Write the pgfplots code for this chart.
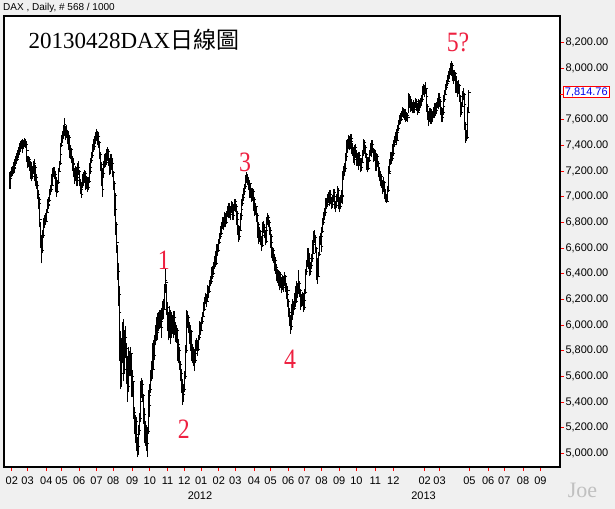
\documentclass[border=0pt]{standalone}
\usepackage{pgfplots}
\pgfplotsset{compat=1.18}
\usepackage{pgfplotstable}
\usepackage{graphicx}
\usepackage{fontspec}
\setmainfont{Liberation Sans}
\newfontfamily\serif{Liberation Serif}
\newfontfamily\cjk{Noto Sans CJK TC}
\definecolor{bggray}{RGB}{240,240,240}
\definecolor{wavered}{RGB}{238,32,64}
\definecolor{joegray}{RGB}{192,192,192}
\definecolor{priceblue}{RGB}{0,0,235}

% DAX daily bars, Feb 2011 - Apr 2013: high, low, close
\pgfplotstableread{
h l c
7190 7060 7140
7200 7100 7180
7230 7150 7200
7240 7160 7190
7260 7180 7230
7270 7190 7220
7290 7200 7260
7320 7240 7300
7340 7260 7290
7360 7280 7340
7370 7300 7330
7390 7310 7360
7420 7340 7400
7430 7350 7380
7440 7370 7410
7420 7340 7390
7450 7380 7420
7440 7370 7400
7455 7390 7430
7450 7380 7410
7430 7340 7360
7380 7270 7300
7320 7220 7250
7320 7230 7290
7310 7200 7260
7280 7150 7200
7270 7140 7230
7240 7120 7160
7240 7140 7210
7280 7180 7260
7290 7200 7230
7250 7120 7160
7200 7080 7150
7180 7060 7090
7120 6980 7020
7050 6900 6950
7000 6860 6980
6960 6760 6820
6800 6600 6700
6700 6480 6580
6740 6560 6700
6800 6680 6760
6830 6720 6790
6860 6760 6830
6870 6780 6810
6900 6800 6880
6960 6870 6940
6980 6900 6930
7000 6920 6970
7060 6960 7040
7090 7010 7060
7120 7040 7090
7180 7080 7160
7220 7140 7180
7230 7150 7200
7230 7140 7170
7190 7090 7120
7150 7040 7080
7100 7000 7040
7130 7030 7110
7220 7100 7200
7280 7190 7260
7350 7250 7330
7420 7320 7400
7480 7390 7450
7510 7420 7480
7560 7460 7500
7610 7480 7560
7590 7470 7520
7550 7440 7490
7560 7460 7510
7520 7410 7440
7500 7400 7460
7480 7360 7400
7420 7300 7330
7400 7290 7370
7380 7260 7300
7320 7210 7250
7300 7200 7260
7280 7150 7190
7220 7100 7140
7240 7120 7210
7230 7090 7130
7180 7080 7150
7260 7140 7230
7280 7170 7200
7210 7080 7110
7140 7020 7060
7090 6990 7020
7110 7000 7090
7180 7070 7150
7190 7090 7120
7210 7110 7180
7200 7100 7140
7170 7050 7090
7160 7060 7130
7150 7040 7070
7150 7050 7120
7220 7110 7200
7260 7180 7230
7300 7210 7280
7350 7260 7320
7410 7300 7380
7440 7350 7420
7450 7360 7390
7470 7380 7440
7500 7410 7470
7530 7440 7490
7510 7400 7430
7500 7420 7470
7490 7380 7420
7430 7290 7330
7350 7200 7250
7270 7080 7150
7180 7000 7060
7220 7050 7180
7280 7150 7240
7330 7220 7300
7340 7230 7270
7360 7250 7330
7370 7260 7300
7390 7280 7350
7370 7240 7280
7300 7170 7220
7290 7180 7250
7330 7210 7300
7330 7220 7260
7290 7150 7190
7200 7050 7100
7120 6975 7010
7030 6850 6900
6950 6700 6780
6800 6560 6640
6620 6350 6420
6480 6150 6240
6300 5950 6100
6150 5720 5880
5950 5500 5620
5900 5520 5850
6020 5700 5940
6050 5750 5800
5880 5560 5650
5960 5620 5900
5990 5740 5820
5860 5540 5600
5700 5400 5520
5760 5480 5700
5830 5640 5760
5800 5600 5650
5830 5600 5780
5780 5560 5600
5650 5440 5480
5640 5470 5560
5560 5270 5320
5360 5150 5200
5300 5080 5250
5280 5100 5150
5200 5020 5080
5130 4970 5050
5220 4990 5180
5310 5140 5270
5430 5240 5400
5560 5380 5500
5590 5430 5540
5570 5400 5450
5460 5230 5300
5350 5170 5250
5290 5080 5130
5250 5060 5200
5220 5020 5080
5200 4970 5170
5490 5150 5450
5470 5280 5370
5540 5330 5500
5650 5470 5580
5720 5560 5680
5740 5580 5650
5860 5660 5820
5880 5700 5760
5920 5730 5880
6000 5840 5950
6060 5920 6020
6050 5880 5940
6090 5920 6050
6100 5950 6000
6120 5970 6080
6120 5980 6030
6080 5900 5980
6130 5960 6090
6190 6040 6150
6200 6050 6120
6320 6120 6280
6445 6250 6350
6400 6260 6330
6320 6080 6140
6180 5950 6050
6100 5880 5980
6150 5920 6100
6120 5900 6000
6060 5850 5940
6090 5900 6050
6080 5930 6000
6060 5900 5970
6110 5950 6060
6080 5920 5990
6020 5870 5930
6000 5860 5960
5980 5800 5850
5890 5720 5780
5850 5700 5800
5830 5650 5690
5720 5560 5620
5660 5470 5530
5580 5400 5480
5520 5380 5460
5540 5400 5500
5640 5480 5600
5840 5580 5800
6100 5780 6050
6120 5960 6010
6110 5980 6060
6080 5940 6000
6020 5850 5900
5990 5870 5950
5960 5800 5850
5880 5720 5780
5850 5700 5800
5830 5680 5740
5780 5640 5720
5810 5700 5780
5880 5760 5850
5900 5800 5860
5880 5760 5810
5920 5800 5900
5990 5880 5950
6030 5920 6000
6020 5920 5960
6060 5950 6030
6100 6010 6070
6170 6060 6140
6180 6090 6120
6220 6110 6190
6250 6160 6220
6240 6140 6180
6280 6180 6250
6310 6220 6280
6300 6210 6260
6350 6250 6320
6380 6300 6340
6400 6320 6380
6450 6360 6420
6460 6370 6400
6490 6390 6460
6540 6440 6510
6540 6450 6480
6580 6470 6550
6630 6540 6600
6630 6540 6580
6670 6570 6640
6720 6630 6690
6770 6670 6740
6770 6680 6710
6800 6700 6770
6840 6750 6820
6840 6740 6780
6860 6760 6830
6880 6790 6850
6870 6760 6800
6890 6790 6860
6930 6840 6900
6930 6830 6880
6950 6850 6920
6940 6830 6860
6920 6820 6890
6970 6870 6940
6960 6860 6900
6930 6820 6850
6940 6840 6910
6980 6890 6960
6980 6880 6920
6940 6830 6870
6890 6780 6820
6840 6700 6750
6780 6650 6690
6770 6660 6740
6870 6740 6850
6930 6820 6900
6980 6880 6950
7020 6930 6990
7070 6970 7040
7100 7010 7080
7140 7060 7110
7170 7080 7140
7194 7110 7150
7180 7090 7130
7150 7050 7080
7130 7040 7100
7110 6990 7020
7090 6990 7060
7070 6960 7000
7070 6970 7040
7060 6940 6980
7000 6890 6940
6960 6850 6880
6950 6860 6920
6930 6800 6850
6870 6740 6780
6800 6680 6720
6750 6630 6680
6760 6650 6730
6740 6620 6660
6690 6580 6620
6720 6610 6700
6800 6690 6780
6810 6720 6760
6790 6680 6710
6740 6620 6650
6770 6640 6740
6840 6730 6810
6870 6780 6840
6860 6760 6800
6820 6700 6740
6760 6650 6690
6710 6600 6640
6660 6520 6560
6610 6500 6580
6600 6480 6520
6550 6430 6470
6530 6420 6500
6520 6400 6450
6470 6340 6380
6440 6330 6410
6430 6300 6350
6380 6270 6320
6420 6300 6390
6410 6290 6340
6370 6250 6300
6390 6270 6350
6370 6260 6290
6380 6280 6340
6410 6300 6380
6390 6260 6300
6330 6200 6240
6300 6190 6270
6290 6140 6180
6200 6060 6100
6130 5990 6050
6080 5930 5990
6110 5960 6080
6160 6040 6120
6200 6090 6160
6190 6080 6130
6250 6120 6220
6260 6140 6180
6300 6170 6260
6340 6230 6300
6330 6210 6250
6430 6240 6320
6340 6220 6270
6280 6120 6160
6230 6130 6200
6240 6140 6180
6260 6150 6230
6250 6100 6140
6220 6120 6190
6280 6170 6250
6440 6240 6420
6510 6390 6470
6600 6450 6560
6600 6480 6520
6550 6440 6480
6500 6380 6420
6490 6390 6460
6550 6440 6520
6590 6490 6560
6660 6550 6630
6730 6620 6700
6740 6640 6680
6700 6560 6600
6610 6440 6500
6520 6350 6400
6440 6320 6380
6570 6370 6550
6690 6540 6650
6720 6620 6690
6700 6570 6610
6760 6600 6730
6830 6720 6800
6880 6780 6850
6910 6820 6880
6960 6860 6930
6990 6900 6960
6990 6900 6940
7020 6920 6990
7040 6950 7010
7030 6930 6970
7050 6950 7020
7040 6940 6980
7000 6900 6940
7010 6910 6980
7060 6960 7030
7060 6960 7000
7020 6900 6940
6970 6880 6930
7020 6910 7000
7080 6980 7050
7070 6960 6990
7010 6900 6960
6990 6880 6920
7010 6900 6990
7050 6950 7010
7040 6940 7000
7200 7020 7170
7240 7130 7200
7260 7160 7220
7340 7200 7310
7400 7280 7350
7440 7340 7410
7450 7340 7380
7480 7370 7440
7470 7360 7400
7460 7370 7430
7490 7400 7450
7450 7330 7360
7420 7320 7380
7390 7260 7290
7360 7250 7330
7400 7300 7380
7410 7310 7340
7360 7240 7280
7330 7240 7300
7320 7210 7250
7350 7240 7320
7340 7250 7290
7300 7190 7230
7300 7200 7270
7360 7260 7340
7410 7320 7380
7450 7360 7420
7440 7340 7380
7400 7300 7330
7340 7210 7250
7310 7200 7280
7290 7190 7220
7310 7210 7280
7360 7270 7330
7420 7320 7390
7410 7310 7350
7440 7340 7410
7430 7340 7370
7380 7270 7300
7370 7280 7340
7360 7260 7290
7300 7200 7240
7340 7220 7310
7330 7230 7260
7280 7150 7200
7230 7120 7170
7200 7080 7120
7190 7090 7160
7180 7070 7100
7130 7020 7060
7150 7040 7110
7120 7000 7050
7080 6980 7020
7060 6960 6990
7020 6950 6960
7080 6960 7050
7210 7040 7180
7240 7140 7200
7290 7180 7260
7350 7250 7320
7350 7260 7300
7370 7280 7340
7410 7320 7390
7440 7360 7410
7470 7390 7440
7500 7420 7470
7490 7400 7440
7530 7440 7500
7560 7470 7530
7600 7510 7580
7640 7560 7610
7650 7570 7600
7670 7590 7640
7670 7590 7630
7700 7620 7660
7690 7610 7650
7680 7600 7630
7680 7600 7650
7670 7580 7610
7660 7590 7630
7650 7580 7620
7810 7650 7780
7800 7710 7760
7780 7690 7730
7760 7660 7700
7750 7670 7720
7740 7650 7690
7750 7670 7720
7740 7650 7680
7740 7660 7710
7770 7690 7740
7760 7670 7700
7720 7640 7660
7730 7650 7700
7760 7680 7730
7750 7670 7710
7770 7690 7740
7790 7710 7760
7820 7740 7800
7860 7780 7830
7880 7800 7850
7870 7780 7820
7890 7800 7840
7850 7740 7780
7790 7660 7700
7720 7600 7640
7670 7550 7600
7690 7580 7660
7690 7600 7630
7660 7570 7600
7680 7590 7650
7670 7580 7620
7700 7610 7680
7700 7620 7650
7730 7640 7700
7720 7630 7670
7740 7650 7700
7770 7690 7740
7780 7680 7720
7810 7700 7770
7790 7700 7740
7760 7640 7680
7700 7580 7620
7690 7580 7660
7730 7640 7700
7790 7690 7760
7830 7740 7800
7880 7790 7850
7910 7830 7880
7950 7860 7920
7950 7870 7900
7980 7890 7950
8000 7920 7960
8040 7950 8000
8058 7970 8020
8040 7940 7980
8000 7900 7940
7980 7880 7920
7990 7900 7960
7970 7850 7890
7920 7810 7860
7940 7840 7900
7900 7780 7820
7910 7800 7870
7880 7740 7780
7790 7660 7700
7720 7620 7660
7740 7640 7700
7820 7700 7780
7850 7750 7800
7810 7680 7720
7720 7520 7560
7580 7420 7460
7520 7430 7460
7700 7450 7660
7830 7650 7814.76
}\daxdata

\begin{document}
\begin{tikzpicture}
\fill[bggray] (0,0) rectangle (615bp,509bp);
\useasboundingbox (0,0) rectangle (615bp,509bp);
\begin{axis}[
  at={(4bp,42bp)}, anchor=south west,
  scale only axis, width=556bp, height=451bp,
  xmin=-7.4, xmax=680.7, ymin=4893, ymax=8408,
  axis background/.style={fill=white},
  axis line style={black, line width=1.2bp},
  clip mode=individual,
  tick align=outside, major tick length=4bp,
  tick style={red, line width=0.8bp},
  xtick pos=bottom, ytick pos=right, yticklabel pos=right,
  xtick={2.2,21.7,44.9,63.9,85.6,107.1,127.8,151.2,173.0,194.9,215.7,236.6,258.4,278.8,302.1,322.5,344.3,364.2,385.6,407.4,428.8,452.1,474.4,513.2,531.7,568.6,591.8,611.8,635.0,656.4},
  xticklabels={02,03,04,05,06,07,08,09,10,11,12,01,02,03,04,05,06,07,08,09,10,11,12,02,03,05,06,07,08,09},
  ytick={5000,5200,...,7600,8000,8200},
  extra y ticks={7800}, extra y tick labels={},
  ticklabel style={font=\fontsize{11bp}{13bp}\selectfont},
  xticklabel style={yshift=-2bp},
  yticklabel style={xshift=-2bp, anchor=west,
    /pgf/number format/.cd, fixed, fixed zerofill, precision=2, 1000 sep={,}, assume math mode=true},
]
% high-low range of each session
\addplot[draw=none, mark=none,
  error bars/.cd, y dir=plus, y explicit, error mark=none,
  error bar style={draw=black, line width=1.1bp}]
  table[x expr=\coordindex, y=l, y error expr=\thisrow{h}-\thisrow{l}] {\daxdata};
% closing tick
\addplot[only marks, mark=-, mark size=1.4bp, black, mark options={line width=0.9bp}]
  table[x expr=\coordindex+1.2, y=c] {\daxdata};
% wave count
\node[text=wavered, font=\serif\fontsize{28bp}{30bp}\selectfont] at (axis cs:190.5,6507) {\scalebox{0.85}[1]{1}};
\node[text=wavered, font=\serif\fontsize{28bp}{30bp}\selectfont] at (axis cs:215.3,5186) {\scalebox{0.85}[1]{2}};
\node[text=wavered, font=\serif\fontsize{28bp}{30bp}\selectfont] at (axis cs:290.8,7265) {\scalebox{0.85}[1]{3}};
\node[text=wavered, font=\serif\fontsize{28bp}{30bp}\selectfont] at (axis cs:346.5,5732) {\scalebox{0.85}[1]{4}};
\node[text=wavered, font=\serif\fontsize{28bp}{30bp}\selectfont] at (axis cs:554.5,8203) {\scalebox{0.85}[1]{5?}};
% last price
\node[anchor=west, draw=red, fill=white, text=priceblue, line width=0.8bp,
  inner xsep=2bp, inner ysep=1bp, xshift=2.5bp,
  font=\fontsize{11bp}{12bp}\selectfont] at (axis cs:680.7,7814.76) {7,814.76};
\end{axis}
% header and labels
\node[anchor=base west, font=\serif\fontsize{23bp}{25bp}\selectfont] at (25bp,460.7bp) {20130428DAX{\cjk\fontsize{23bp}{25bp}\selectfont 日線圖}};
\node[anchor=west, font=\fontsize{10bp}{12bp}\selectfont, inner sep=0pt] at (3bp,501bp) {DAX , Daily, \# 568 / 1000};
\node[font=\fontsize{11bp}{13bp}\selectfont] at (200bp,13bp) {2012};
\node[font=\fontsize{11bp}{13bp}\selectfont] at (423.5bp,13bp) {2013};
\node[text=joegray, font=\serif\fontsize{22bp}{24bp}\selectfont] at (582.5bp,19bp) {Joe};
\end{tikzpicture}
\end{document}
